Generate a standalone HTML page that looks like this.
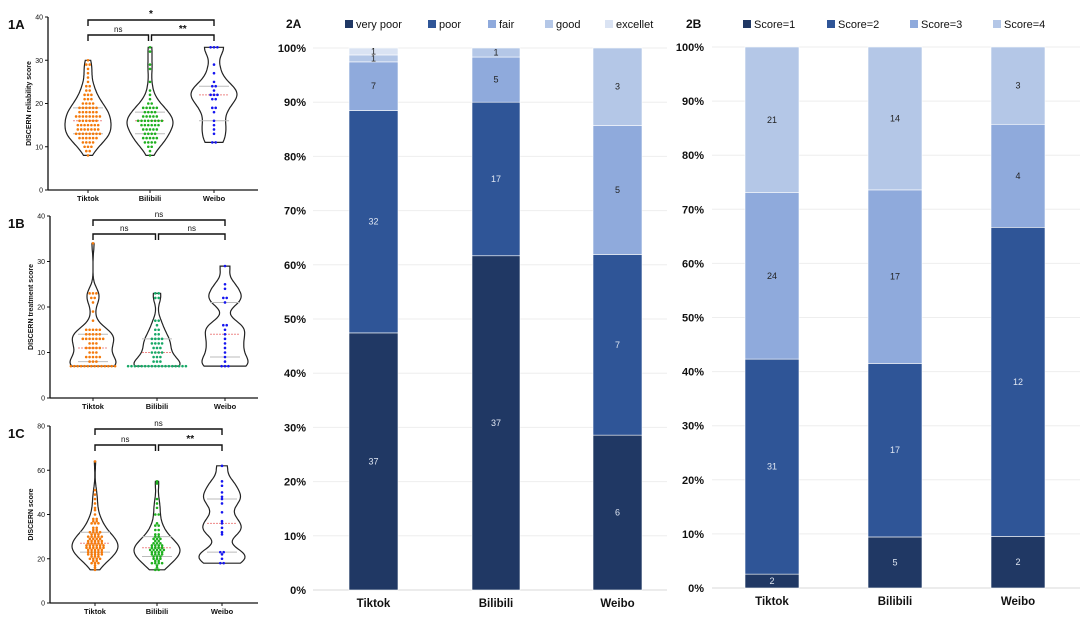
<!DOCTYPE html>
<html><head><meta charset="utf-8">
<style>
html,body{margin:0;padding:0;background:#fff;}
svg{display:block;font-family:"Liberation Sans",sans-serif;}
</style></head>
<body>
<svg id="fig" width="1084" height="625" viewBox="0 0 1084 625" xmlns="http://www.w3.org/2000/svg"></svg>
<script>
// ---------- Bar chart data ----------
const platforms = ["Tiktok","Bilibili","Weibo"];
const catsA = ["very poor","poor","fair","good","excellet"];
const valsA_veryPoor = [37,37,6];
const valsA_poor = [32,17,7];
const valsA_fair = [7,5,5];
const valsA_good = [1,1,3];
const valsA_excellent = [1,0,0];
const catsB = ["Score=1","Score=2","Score=3","Score=4"];
const valsB_s1 = [2,5,2];
const valsB_s2 = [31,17,12];
const valsB_s3 = [24,17,4];
const valsB_s4 = [21,14,3];
const pctTicks = ["0%","10%","20%","30%","40%","50%","60%","70%","80%","90%","100%"];

// ---------- Violin data (score levels + counts) ----------
const v1A_T_lv=[8,9,10,11,12,13,14,15,16,17,18,19,20,21,22,23,24,25,26,27,28,29,30];
const v1A_T_ct=[1,2,3,4,6,8,7,7,6,8,6,6,4,3,3,2,2,1,1,1,1,2,1];
const v1A_B_lv=[8,9,10,11,12,13,14,15,16,17,18,19,20,21,22,23,25,28,29,32,33];
const v1A_B_ct=[1,1,2,4,5,4,5,6,8,5,4,5,2,1,1,1,1,1,1,1,1];
const v1A_W_lv=[11,13,14,15,16,18,19,21,22,23,24,25,27,29,33];
const v1A_W_ct=[2,1,1,1,1,1,2,2,3,1,2,1,1,1,3];
const v1B_T_lv=[7,8,9,10,11,12,13,14,15,17,19,21,22,23,34];
const v1B_T_ct=[14,3,5,3,5,3,7,5,5,1,1,1,2,3,1];
const v1B_B_lv=[7,8,9,10,11,12,13,14,15,16,17,22,23];
const v1B_B_ct=[18,3,3,4,3,4,4,2,2,1,2,2,2];
const v1B_W_lv=[7,8,9,10,11,12,13,14,15,16,21,22,24,25,29];
const v1B_W_ct=[3,1,1,1,1,1,1,1,1,2,1,2,1,1,1];
const v1C_T_lv=[15,16,17,18,19,20,21,22,23,24,25,26,27,28,29,30,31,32,33,34,36,37,38,40,42,43,45,47,49,51,64];
const v1C_T_ct=[1,1,1,3,2,4,3,5,5,5,6,6,5,5,4,5,3,4,2,2,3,2,2,1,1,1,1,1,1,1,1];
const v1C_B_lv=[15,16,17,18,19,20,21,22,23,24,25,26,27,28,29,30,31,33,35,36,40,43,45,47,54,55];
const v1C_B_ct=[2,1,1,4,2,3,3,4,4,5,4,4,3,2,3,2,2,2,2,1,2,1,1,1,1,1];
const v1C_W_lv=[18,20,22,23,31,32,34,36,37,41,45,47,48,50,53,55,62];
const v1C_W_ct=[2,1,1,2,1,1,1,1,1,1,1,1,1,1,1,1,1];
const yTicksA=[0,10,20,30,40], yTicksB=[0,10,20,30,40], yTicksC=[0,20,40,60,80];

const NS="http://www.w3.org/2000/svg";
const svg=document.getElementById('fig');
function mk(tag,attrs,parent){const e=document.createElementNS(NS,tag);for(const k in attrs)e.setAttribute(k,attrs[k]);(parent||svg).appendChild(e);return e;}
function txt(s,attrs,parent){const e=mk('text',attrs,parent);e.textContent=s;return e;}

// ---------- Violin panels ----------
const colorsT="#f47a0c", colorsW="#1515f0";
const panels=[
 {id:"1A",lab:"DISCERN reliability score",ax:48,yTop:17,y0:190,max:40,ticks:yTicksA,xs:[88,150,214],labY:201,
  groups:[[v1A_T_lv,v1A_T_ct,colorsT],[v1A_B_lv,v1A_B_ct,"#1fb01f"],[v1A_W_lv,v1A_W_ct,colorsW]],bw:1.8,
  br:{top:20,low:35,sig:["ns","**","*"]}},
 {id:"1B",lab:"DISCERN treatment score",ax:50,yTop:216,y0:398,max:40,ticks:yTicksB,xs:[93,157,225],labY:409,
  groups:[[v1B_T_lv,v1B_T_ct,colorsT],[v1B_B_lv,v1B_B_ct,"#17a866"],[v1B_W_lv,v1B_W_ct,colorsW]],bw:1.6,
  br:{top:220,low:234,sig:["ns","ns","ns"]}},
 {id:"1C",lab:"DISCERN score",ax:50,yTop:426,y0:603,max:80,ticks:yTicksC,xs:[95,157,222],labY:614,
  groups:[[v1C_T_lv,v1C_T_ct,colorsT],[v1C_B_lv,v1C_B_ct,"#1fb01f"],[v1C_W_lv,v1C_W_ct,colorsW]],bw:3.2,
  br:{top:429,low:445,sig:["ns","**","ns"]}}
];
panels.forEach(p=>{
  const g=mk('g',{}); 
  
  
  const ys=v=>p.y0-v*(p.y0-p.yTop)/p.max;
  const t=txt(p.id,{x:8,y:p.yTop+12,'font-size':13,'font-weight':'bold',fill:'#111'},g);
  
  
  // axes
  mk('line',{x1:p.ax,y1:p.yTop,x2:p.ax,y2:p.y0,stroke:'#111','stroke-width':1.3},g);
  mk('line',{x1:p.ax,y1:p.y0,x2:258,y2:p.y0,stroke:'#111','stroke-width':1.3},g);
  p.ticks.forEach(v=>{
    mk('line',{x1:p.ax-3,y1:ys(v),x2:p.ax,y2:ys(v),stroke:'#111','stroke-width':1},g);
    const tl=txt(v,{x:p.ax-5,y:ys(v)+2.5,'font-size':7,'text-anchor':'end',fill:'#111'},g);
    
    
  });
  const yl=txt(p.lab,{x:0,y:0,'font-size':7,'font-weight':'bold','text-anchor':'middle',fill:'#111',transform:`translate(${p.ax-17},${(p.yTop+p.y0)/2}) rotate(-90)`},g);
  
  
  platforms.forEach((c,i)=>{
    mk('line',{x1:p.xs[i],y1:p.y0,x2:p.xs[i],y2:p.y0+3,stroke:'#111'},g);
    const xl=txt(c,{x:p.xs[i],y:p.labY,'font-size':7.5,'font-weight':'bold','text-anchor':'middle',fill:'#111'},g);
    
    
  });
  // brackets
  const b=p.br, x=p.xs;
  const br=(x1,x2,y,s)=>{
    mk('path',{d:`M${x1},${y+6}V${y}H${x2}V${y+6}`,fill:'none',stroke:'#111','stroke-width':1.4},g);
    const st=txt(s,{x:(x1+x2)/2,y:y-3,'font-size':s=="ns"?8:10,'font-weight':s=="ns"?'normal':'bold','text-anchor':'middle',fill:'#111'},g);
    
    
  };
  br(x[0],x[2],b.top,b.sig[2]);
  br(x[0],x[1]-1.5,b.low,b.sig[0]);
  br(x[1]+1.5,x[2],b.low,b.sig[1]);
  // violins
  p.groups.forEach((gr,i)=>{
    const [lv,ct,col]=gr;
    const data=[];lv.forEach((v,k)=>{for(let j=0;j<ct[k];j++)data.push(v);});
    const mn=Math.min(...data), mx=Math.max(...data);
    const N=60, dens=[];
    for(let k=0;k<=N;k++){const v=mn+(mx-mn)*k/N;let s=0;data.forEach(d=>{s+=Math.exp(-0.5*((v-d)/p.bw)**2);});dens.push([v,s]);}
    const dmax=Math.max(...dens.map(d=>d[1]));
    const W=23;
    let path="";
    dens.forEach((d,k)=>{path+=(k?"L":"M")+(x[i]+d[1]/dmax*W).toFixed(1)+","+ys(d[0]).toFixed(1);});
    for(let k=N;k>=0;k--){const d=dens[k];path+="L"+(x[i]-d[1]/dmax*W).toFixed(1)+","+ys(d[0]).toFixed(1);}
    path+="Z";
    const vp=mk('path',{d:path,fill:'none',stroke:'#222','stroke-width':1.2},g);
    
    
    // quartiles
    const sorted=data.slice().sort((a,b)=>a-b);
    const q=f=>sorted[Math.floor(f*(sorted.length-1))];
    [[0.25,'#bbb'],[0.75,'#bbb'],[0.5,'#e88']].forEach(([f,c])=>{
      mk('line',{x1:x[i]-15,x2:x[i]+15,y1:ys(q(f)),y2:ys(q(f)),stroke:c,'stroke-width':1,'stroke-dasharray':f==0.5?'2,1':''},g);
    });
    // dots
    lv.forEach((v,k)=>{
      const n=ct[k];
      for(let j=0;j<n;j++){
        const dot=mk('circle',{cx:x[i]+(j-(n-1)/2)*3.4,cy:ys(v),r:1.3,fill:col},g);
        
        
      }
    });
  });
});

// ---------- Stacked bar charts ----------
const charts=[
 {id:"2A",cats:catsA,series:[valsA_veryPoor,valsA_poor,valsA_fair,valsA_good,valsA_excellent],
  colors:["#203864","#2f5597","#8faadc","#b4c7e7","#dae3f3"],
  top:48,bot:590,gx1:313,gx2:667,labX:306,bars:[[349,398],[472,520],[593,642]],legX:[345,428,488,545,605],titleX:286},
 {id:"2B",cats:catsB,series:[valsB_s1,valsB_s2,valsB_s3,valsB_s4],
  colors:["#203864","#2f5597","#8faadc","#b4c7e7"],
  top:47,bot:588,gx1:712,gx2:1080,labX:704,bars:[[745,799],[868,922],[991,1045]],legX:[743,827,910,993],titleX:686}
];
charts.forEach(c=>{
  const g=mk('g',{});
  
  
  const ys=f=>c.bot-f*(c.bot-c.top);
  const tt=txt(c.id,{x:c.titleX,y:28,'font-size':12,'font-weight':'bold',fill:'#111'},g);
  
  
  pctTicks.forEach((t,k)=>{
    const y=ys(k/10);
    mk('line',{x1:c.gx1,x2:c.gx2,y1:y,y2:y,stroke:k==0?'#d9d9d9':'#eeeeee','stroke-width':1},g);
    const tl=txt(t,{x:c.labX,y:y+4,'font-size':11,'font-weight':'bold','text-anchor':'end',fill:'#111'},g);
    
    
  });
  c.cats.forEach((cat,s)=>{
    const lx=c.legX[s];
    const sq=mk('rect',{x:lx,y:20,width:8,height:8,fill:c.colors[s]},g);
    
    
    const lt=txt(cat,{x:lx+11,y:28,'font-size':11,fill:'#111'},g);
    
    
  });
  platforms.forEach((p,i)=>{
    const total=c.series.reduce((a,s)=>a+s[i],0);
    let cum=0;
    const [x1,x2]=c.bars[i];
    c.series.forEach((s,k)=>{
      const v=s[i]; if(!v) return;
      const y1=ys((cum+v)/total), y0=ys(cum/total);
      const r=mk('rect',{x:x1,y:y1,width:x2-x1,height:y0-y1,fill:c.colors[k],stroke:'#ffffff','stroke-width':0.6},g);
      
      
      const vl=txt(v,{x:(x1+x2)/2,y:(y1+y0)/2+3,'font-size':9,'text-anchor':'middle',fill:k<2?'#dfe6f2':'#222'},g);
      
      
      cum+=v;
    });
    const xl=txt(p,{x:(x1+x2)/2,y:c.bot+17,'font-size':11.5,'font-weight':'bold','text-anchor':'middle',fill:'#111'},g);
    
    
  });
});
</script>
</body></html>
